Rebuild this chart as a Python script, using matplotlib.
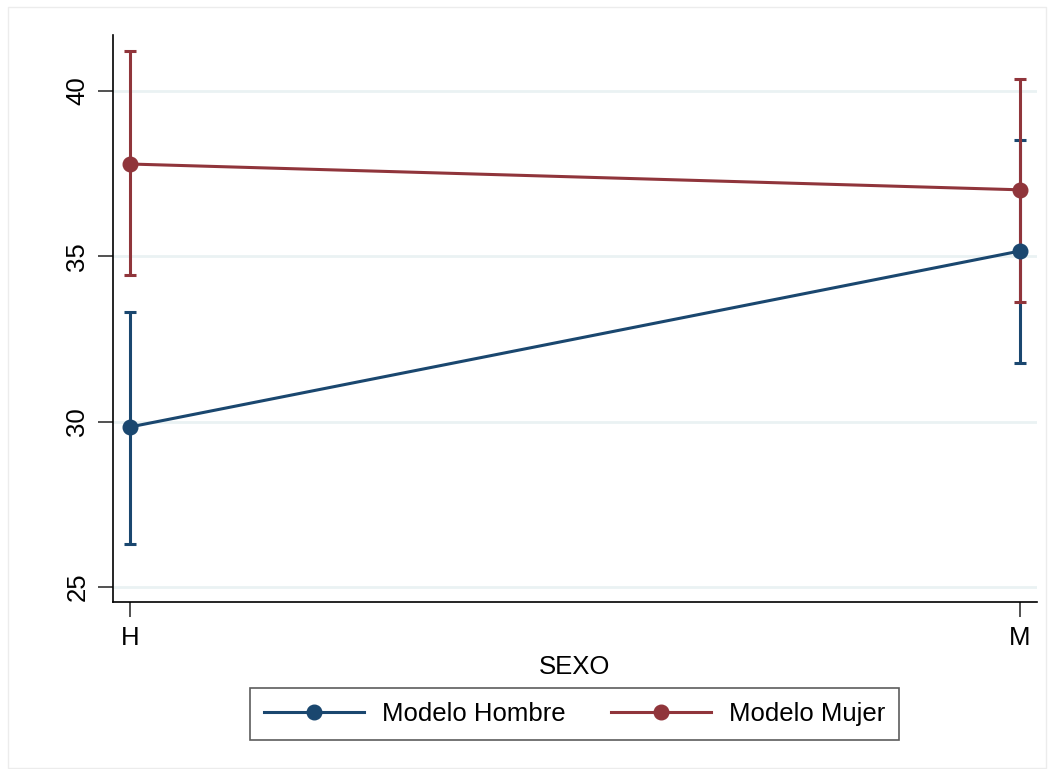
import matplotlib.pyplot as plt
from matplotlib.patches import Rectangle

plt.rcParams['font.family'] = ['Liberation Sans', 'DejaVu Sans']

# Predictive margins by sex, with 95% CI
sexo = ["H", "M"]
hombre_mean = [29.84, 35.16]
hombre_lo = [26.30, 31.78]
hombre_hi = [33.32, 38.52]
mujer_mean = [37.79, 37.01]
mujer_lo = [34.44, 33.62]
mujer_hi = [41.21, 40.36]

yticks = [25, 30, 35, 40]

navy = "#1a476f"
maroon = "#90353b"

fig = plt.figure(figsize=(10.52, 7.69), dpi=100)
fig.patch.set_facecolor("white")
fig.patches.append(Rectangle((8 / 1052, 1 / 769), 1038 / 1052, 761 / 769,
                             transform=fig.transFigure, fill=False,
                             edgecolor="#ececec", linewidth=1.0))

ax = fig.add_axes([113 / 1052, 1 - 602 / 769, (1037 - 113) / 1052, (602 - 35) / 769])

x = list(range(len(sexo)))

# confidence interval caps first, then the connected estimates
for mean, lo, hi, col in [(hombre_mean, hombre_lo, hombre_hi, navy),
                          (mujer_mean, mujer_lo, mujer_hi, maroon)]:
    err = [[m - l for m, l in zip(mean, lo)], [h - m for m, h in zip(mean, hi)]]
    ax.errorbar(x, mean, yerr=err, fmt="none", ecolor=col, elinewidth=2.2,
                capsize=4.5, capthick=2.2, zorder=3)

ax.plot(x, hombre_mean, color=navy, lw=2.2, marker="o", ms=10.5,
        label="Modelo Hombre", zorder=4)
ax.plot(x, mujer_mean, color=maroon, lw=2.2, marker="o", ms=10.5,
        label="Modelo Mujer", zorder=4)

ax.set_xlim(-0.019, 1.0191)
ax.set_ylim(24.55, 41.69)
ax.set_xticks(x)
ax.set_xticklabels(sexo, fontsize=18.5)
ax.set_yticks(yticks)
ax.set_yticklabels([str(t) for t in yticks], fontsize=18.5, rotation=90, va="center")
ax.tick_params(axis="both", direction="out", length=11, width=1.2, color="#333333")
ax.tick_params(axis="y", pad=6)
ax.tick_params(axis="x", pad=6)
ax.set_xlabel("SEXO", fontsize=18.5, labelpad=4)

ax.grid(axis="y", color="#eaf2f3", linewidth=2)
ax.set_axisbelow(True)
for side in ["top", "right"]:
    ax.spines[side].set_visible(False)
for side in ["left", "bottom"]:
    ax.spines[side].set_linewidth(1.2)
    ax.spines[side].set_color("black")

leg = fig.legend(loc="center", bbox_to_anchor=(574.5 / 1052, 1 - 714 / 769), ncol=2,
                 fontsize=18.5, frameon=True, fancybox=False, edgecolor="#333333",
                 handlelength=3.9, columnspacing=1.75, handletextpad=0.7,
                 borderpad=0.55, borderaxespad=0)
leg.get_frame().set_linewidth(1.2)

fig.savefig("out.png", dpi=100, facecolor="white")
